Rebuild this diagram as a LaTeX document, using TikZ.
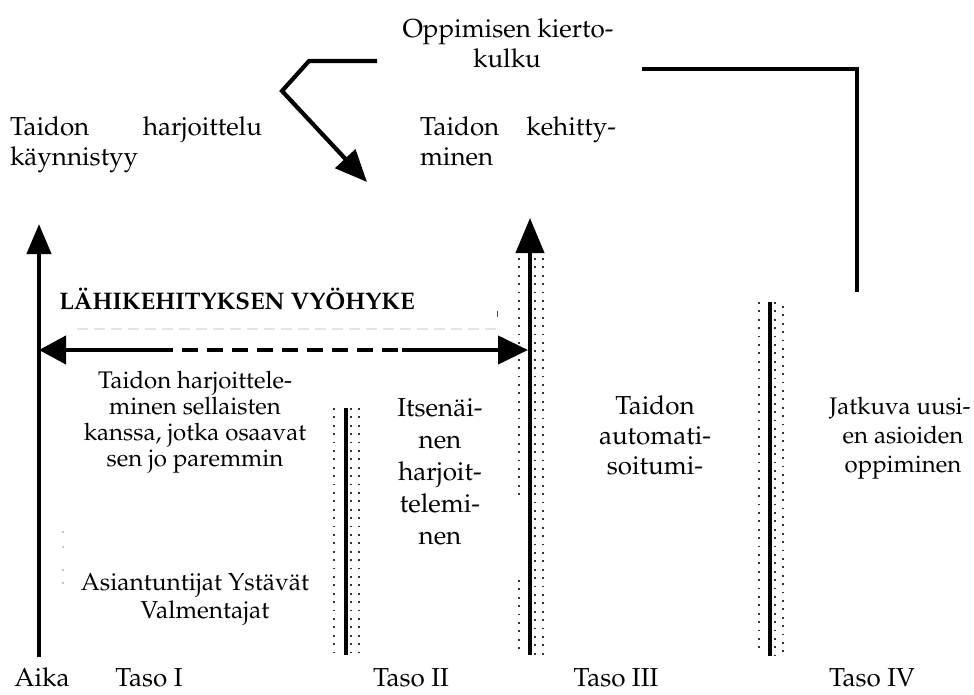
\documentclass[tikz,border=0pt]{standalone}
\usepackage[T1]{fontenc}
\usepackage{mathpazo}
\usetikzlibrary{arrows.meta}

\tikzset{
  tl/.style={inner sep=0pt, outer sep=0pt, anchor=base, font=\fontsize{26}{30}\selectfont},
  tlm/.style={tl, font=\fontsize{24.5}{30}\selectfont},
  tls/.style={tl, font=\fontsize{24}{30}\selectfont},
  thick line/.style={line width=4.2pt, line cap=butt},
  dotcol/.style={draw=black!80, line width=1.8pt, dash pattern=on 1.8pt off 6.6pt},
  faint/.style={draw=black!10, line width=1.4pt, dash pattern=on 11pt off 6pt},
}

\begin{document}
\begin{tikzpicture}[x=1pt, y=-1pt]
\useasboundingbox (0,0) rectangle (974,695);

% ---- headings ----
\node[tl] (cycA) at (508,38) {Oppimisen kierto-};
\node[tl] (cycB) at (507,68) {kulku};
\node[tl, anchor=base west] (stA) at (10,136) {\makebox[252pt][s]{Taidon harjoittelu}};
\node[tl, anchor=base west] (stB) at (10,166) {käynnistyy};
\node[tl, anchor=base west] (dvA) at (420,136) {\makebox[196pt][s]{Taidon kehitty-}};
\node[tl, anchor=base west] (dvB) at (420,166) {minen};
\node[tl, font=\fontsize{24}{30}\bfseries\selectfont] (zone) at (237,309)
  {LÄHIKEHITYKSEN VYÖHYKE};

% ---- level I ----
\node[tls] (wA) at (195,388) {Taidon harjoittele-};
\node[tls] (wB) at (195,414) {minen sellaisten};
\node[tls] (wC) at (195,440) {kanssa, jotka osaavat};
\node[tls] (wD) at (195,466) {sen jo paremmin};
\node[tlm] (who1) at (195,590) {Asiantuntijat Ystävät};
\node[tlm] (who2) at (205,618) {Valmentajat};

% ---- level II ----
\node[tl] (iA) at (440,416) {Itsenäi-};
\node[tl] (iB) at (440,448) {nen};
\node[tl] (iC) at (440,480) {harjoit-};
\node[tl] (iD) at (440,512) {telemi-};
\node[tl] (iE) at (440,544) {nen};

% ---- level III ----
\node[tl] (aA) at (655,414) {Taidon};
\node[tl] (aB) at (655,444) {automati-};
\node[tl] (aC) at (655,474) {soitumi-};

% ---- level IV ----
\node[tls] (jA) at (900,414) {Jatkuva uusi-};
\node[tls] (jB) at (903,443) {en asioiden};
\node[tls] (jC) at (903,472) {oppiminen};

% ---- axis labels ----
\node[tl] (aika) at (42,686) {Aika};
\node[tl] (t1) at (149,686) {Taso I};
\node[tl] (t2) at (411,686) {Taso II};
\node[tl] (t3) at (616,686) {Taso III};
\node[tl] (t4) at (872,686) {Taso IV};

% ---- time axis ----
\coordinate (axb) at (39,657);
\coordinate (axt) at (39,224);
\draw[thick line, -{Triangle[length=30pt,width=24pt]}] (axb) -- (axt);

% boundary between levels I and II
\coordinate (b1b) at (346,655);
\coordinate (b1t) at (346,408);
\draw[dotcol] (334,408) -- (334,655);
\draw[dotcol] (351,408) -- (351,655);
\draw[dotcol] (359,408) -- (359,655);
\draw[thick line] (b1b) -- (b1t);

% boundary between levels II and III, with arrow
\coordinate (b2b) at (530,655);
\coordinate (b2t) at (530,218);
\draw[dotcol] (519,258) -- (519,500);
\draw[dotcol] (519,580) -- (519,655);
\draw[dotcol] (535,258) -- (535,655);
\draw[dotcol] (543,258) -- (543,655);
\draw[thick line, -{Triangle[length=35pt,width=28pt]}] (b2b) -- (b2t);

% boundary between levels III and IV
\coordinate (b3b) at (770,656);
\coordinate (b3t) at (770,302);
\draw[dotcol] (759,302) -- (759,650);
\draw[dotcol] (775,302) -- (775,656);
\draw[dotcol] (783,306) -- (783,656);
\draw[thick line] (b3b) -- (b3t);

% ---- zone of proximal development ----
\coordinate (zl) at (39,350);
\coordinate (zm1) at (157,350);
\coordinate (zm2) at (402,350);
\coordinate (zr) at (528,350);
\draw[thick line, {Triangle[length=27pt,width=28pt]}-] (zl) -- (zm1);
\draw[thick line, dash pattern=on 16pt off 9pt] (zm1) -- (zm2);
\draw[thick line, -{Triangle[length=30pt,width=28pt]}] (zm2) -- (zr);

% faint marks under the zone title
\draw[faint] (77,329) -- (496,329);
\draw[black!70, line width=1pt] (497,311) -- (497,317);
\foreach \yy in {532,547,570,583}
  \fill[black!45] (63,\yy) circle (0.8pt);

% ---- learning cycle connectors ----
\coordinate (c1) at (377,61);
\coordinate (c2) at (309,61);
\coordinate (c3) at (282,91);
\coordinate (c4) at (367,182);
\draw[thick line, line join=miter, -{Triangle[length=32pt,width=27pt]}]
  (c1) -- (c2) -- (c3) -- (c4);

\coordinate (r1) at (642,69);
\coordinate (r2) at (857,69);
\coordinate (r3) at (857,292);
\draw[thick line, line join=miter] (r1) -- (r2) -- (r3);
\end{tikzpicture}
\end{document}
